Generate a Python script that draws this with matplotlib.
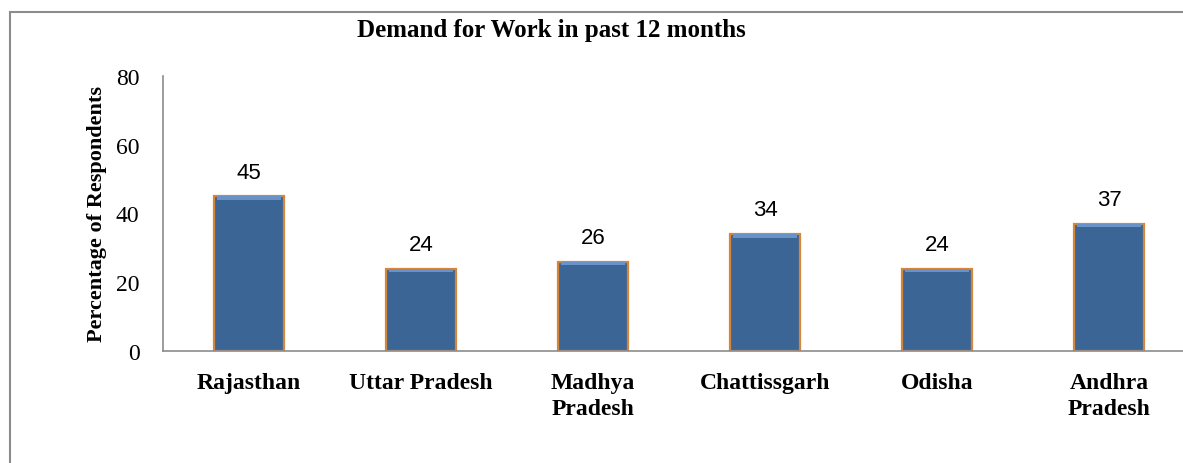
import matplotlib.pyplot as plt
import matplotlib.patches as patches
import numpy as np

# data
states = ["Rajasthan", "Uttar Pradesh", "Madhya\nPradesh", "Chattissgarh", "Odisha", "Andhra\nPradesh"]
values = [45, 24, 26, 34, 24, 37]
yticks = [0, 20, 40, 60, 80]

serif = ['Liberation Serif', 'DejaVu Serif']
plt.rcParams['font.family'] = serif

fig = plt.figure(figsize=(11.83, 4.64), dpi=100)
ax = fig.add_axes([163 / 1183, 112 / 464, 172 * 6 / 1183, 275 / 464])

x = np.arange(len(states))
ax.bar(x, values, width=0.41, color='#3B6595', edgecolor='#D98539', linewidth=1.6, zorder=2)
# lighter bevel strip at top of each bar
ax.bar(x, [1.0] * len(values), bottom=[v - 1.0 for v in values], width=0.37,
       color='#6993C8', linewidth=0, zorder=3)

for xi, v in zip(x, values):
    ax.text(xi, v + 4.0, str(v), ha='center', va='bottom', fontsize=16,
            family=['Liberation Sans', 'DejaVu Sans'])

ax.set_xlim(-0.5, 5.5)
ax.set_ylim(0, 80)
ax.set_yticks(yticks)
ax.set_yticklabels([str(t) for t in yticks], fontsize=17, family=serif)
ax.set_xticks(x)
ax.set_xticklabels(states, fontsize=17, fontweight='bold', linespacing=1.35, family=serif)
ax.tick_params(axis='x', length=0, pad=15)
ax.tick_params(axis='y', length=0, pad=17)

for s in ['top', 'right']:
    ax.spines[s].set_visible(False)
for s in ['left', 'bottom']:
    ax.spines[s].set_color('#8C8C8C')
    ax.spines[s].set_linewidth(1.2)

ax.set_ylabel("Percentage of Respondents", fontsize=16, fontweight='bold', labelpad=6)

fig.text(551 / 1183, 1 - 30 / 464, "Demand for Work in past 12 months", ha='center', va='center',
         fontsize=18, fontweight='bold')

# chart border (cut off at right and bottom)
fig.patches.append(patches.Rectangle((10 / 1183, -0.1), 1.2, 1.1 - 13 / 464, transform=fig.transFigure,
                                     fill=False, edgecolor='#8C8C8C', linewidth=1.5))

fig.savefig('out.png', dpi=100)
